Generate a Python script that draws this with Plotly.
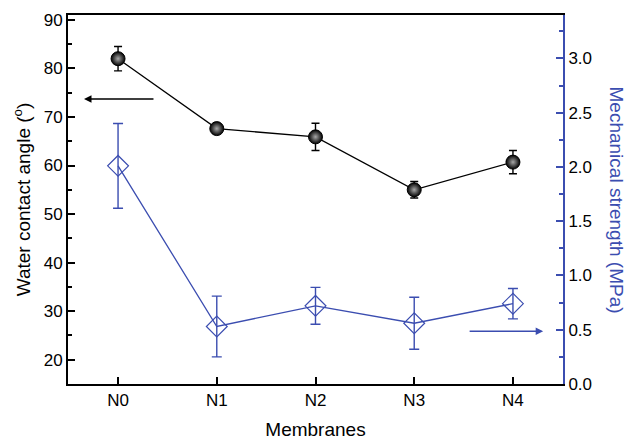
import plotly.graph_objects as go

categories = ["N0", "N1", "N2", "N3", "N4"]
contact_angle = [82.0, 67.6, 65.9, 55.0, 60.7]
contact_angle_err = [2.5, 1.0, 2.8, 1.7, 2.4]
strength = [2.01, 0.53, 0.72, 0.56, 0.74]
strength_err = [0.39, 0.28, 0.17, 0.24, 0.14]

BLUE = "#3b4db0"
xpos = list(range(len(categories)))

fig = go.Figure()
fig.add_trace(go.Scatter(
    x=xpos, y=contact_angle, mode="lines+markers",
    line=dict(color="black", width=1.3),
    marker=dict(symbol="circle", size=14, color="black",
                gradient=dict(type="radial", color="#a8a8a8"),
                line=dict(color="black", width=1)),
    error_y=dict(type="data", array=contact_angle_err, color="black", thickness=1.4, width=4),
    showlegend=False, yaxis="y"))
fig.add_trace(go.Scatter(
    x=xpos, y=strength, mode="lines+markers",
    line=dict(color=BLUE, width=1.3),
    marker=dict(symbol="diamond-open", size=16, color=BLUE, line=dict(width=1.2)),
    error_y=dict(type="data", array=strength_err, color=BLUE, thickness=1.4, width=5),
    showlegend=False, yaxis="y2"))

font = dict(family="Liberation Sans, Arial, sans-serif", size=17, color="black")

fig.update_layout(
    width=625, height=441,
    margin=dict(l=68, r=62, t=15, b=57, autoexpand=False),
    plot_bgcolor="white", paper_bgcolor="white",
    font=font,
    xaxis=dict(range=[-0.507, 4.507], tickvals=xpos, ticktext=categories,
               showline=True, linecolor="black", linewidth=2, mirror=True,
               ticks="inside", ticklen=7, tickwidth=2, tickcolor="black",
               showgrid=False, zeroline=False, automargin=False,
               title=dict(text="Membranes", font=dict(size=19), standoff=13)),
    yaxis=dict(range=[15, 91], tickvals=[20, 30, 40, 50, 60, 70, 80, 90],
               showline=True, linecolor="black", linewidth=2,
               ticks="inside", ticklen=7, tickwidth=2, tickcolor="black",
               minor=dict(tickvals=[25, 35, 45, 55, 65, 75, 85], ticks="inside",
                          ticklen=4, tickwidth=1.5, tickcolor="black"),
               showgrid=False, zeroline=False, automargin=False,
               title=dict(text="Water contact angle (<sup>o</sup>)", font=dict(size=19), standoff=8)),
    yaxis2=dict(range=[0, 3.4], overlaying="y", side="right",
                tickvals=[0, 0.5, 1.0, 1.5, 2.0, 2.5, 3.0],
                ticktext=["0.0", "0.5", "1.0", "1.5", "2.0", "2.5", "3.0"],
                showline=True, linecolor=BLUE, linewidth=2,
                ticks="inside", ticklen=7, tickwidth=2, tickcolor=BLUE,
                minor=dict(tickvals=[0.25, 0.75, 1.25, 1.75, 2.25, 2.75, 3.25], ticks="inside",
                           ticklen=4, tickwidth=1.5, tickcolor=BLUE),
                showgrid=False, zeroline=False, automargin=False),
    annotations=[
        dict(x=-0.345, y=73.7, ax=0.374, ay=73.7, xref="x", yref="y", axref="x", ayref="y",
             text="", showarrow=True, arrowhead=2, arrowsize=1, arrowwidth=1.5, arrowcolor="black"),
        dict(x=4.306, y=0.485, ax=3.546, ay=0.485, xref="x", yref="y2", axref="x", ayref="y2",
             text="", showarrow=True, arrowhead=2, arrowsize=1, arrowwidth=1.5, arrowcolor=BLUE),
        dict(x=1.0, y=0.5, xref="paper", yref="paper", xanchor="center", yanchor="middle",
             xshift=53, text="Mechanical strength (MPa)", textangle=90, showarrow=False,
             font=dict(size=19, color=BLUE)),
    ],
)

fig.write_html("out.html")
